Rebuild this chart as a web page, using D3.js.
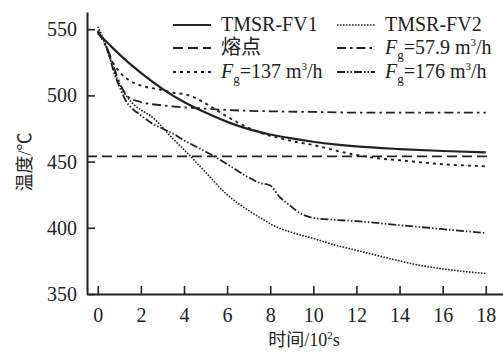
<!DOCTYPE html>
<html>
<head>
<meta charset="utf-8">
<script src="https://cdn.jsdelivr.net/npm/d3@7"></script>
<style>
  body { margin: 0; background: #fff; }
  svg text { font-family: "Times New Roman", "Liberation Serif", "Noto Sans CJK SC", serif; fill: #222; }
</style>
</head>
<body>
<div id="chart"></div>
<script>
// time in 10^2 s, temperature in degC
const xTicks = [0, 2, 4, 6, 8, 10, 12, 14, 16, 18];
const yTicks = [350, 400, 450, 500, 550];
const meltPoint = 454;

const fv1 = [[0,547],[0.5,539],[1,531],[2,517],[3,505],[4,495],[5,487],[6,480],[7,474.5],[8,470.5],[9,467.5],[10,465],[11,463],[12,461.5],[14,459.5],[16,458],[18,457]];
const fv2 = [[0,552],[0.3,541],[0.6,526],[1,509],[1.4,498],[1.75,492],[2,489],[2.5,484],[3,476],[3.5,467],[4,459],[5,442],[6,425],[7,413],[7.7,406],[8,403],[9,396.5],[10,392],[11,387],[12,383],[13,379],[14,375],[15,371.5],[16,369],[17,367],[18,365.5]];
const fg57 = [[0,548],[0.5,533],[1,510],[1.4,499],[2,495],[3,492.5],[4,491],[5,490],[6,489],[8,488],[10,487.5],[12,487],[14,487],[16,487],[18,487]];
const fg137 = [[0,549],[0.3,540],[0.6,528],[1,518],[1.5,511],[2,507.5],[3,504],[3.5,502],[4,501],[4.4,499],[5,494],[5.5,489],[6,484],[6.5,479.5],[7,475.5],[7.7,471],[8.5,467.5],[9,465.5],[10,462.5],[11,458.5],[12,455],[13,452.5],[14,451],[16,448],[18,446.5]];
const fg176 = [[0,548],[0.4,537],[0.8,515],[1.1,503],[1.3,496],[1.6,490],[2,485],[2.5,479],[3,475],[3.5,471],[4,466],[4.6,461],[5.4,454],[6.3,445],[7,438],[7.5,434],[8,432],[8.4,424],[8.9,417],[9.5,410],[10,407.5],[11,406],[12,405],[14,402],[16,399],[18,396]];

const width = 503, height = 352;
const svg = d3.select('#chart').append('svg')
  .attr('width', width)
  .attr('height', height);

const x = d3.scaleLinear().domain([-0.5, 18.8]).range([87, 503]);
const y = d3.scaleLinear().domain([350, 563]).range([294, 12]);

const series = [
  { name: 'fv1', data: fv1, dash: null, w: 2.2 },
  { name: 'fv2', data: fv2, dash: '1.6,1.4', w: 1.6 },
  { name: 'fg57', data: fg57, dash: '9,4,2.5,4', w: 1.8 },
  { name: 'fg137', data: fg137, dash: '3,4', w: 1.9 },
  { name: 'fg176', data: fg176, dash: '8,2,1.5,2,1.5,2', w: 1.8 }
];

const line = d3.line()
  .x(d => x(d[0]))
  .y(d => y(d[1]))
  .curve(d3.curveMonotoneX);

// melting point
svg.append('line')
  .attr('x1', x(-0.5)).attr('x2', x(18.1))
  .attr('y1', y(meltPoint)).attr('y2', y(meltPoint))
  .attr('stroke', '#222')
  .attr('stroke-width', 1.8)
  .attr('stroke-dasharray', '10,5');

series.forEach(s => {
  svg.append('path')
    .datum(s.data)
    .attr('fill', 'none')
    .attr('stroke', '#222')
    .attr('stroke-width', s.w)
    .attr('stroke-dasharray', s.dash)
    .attr('d', line);
});

// axes
const xAxis = svg.append('g')
  .attr('transform', `translate(0,${y(350)})`)
  .call(d3.axisBottom(x).tickValues(xTicks).tickSizeInner(-8).tickSizeOuter(0).tickPadding(14));
const yAxis = svg.append('g')
  .attr('transform', `translate(${x(-0.5)},0)`)
  .call(d3.axisLeft(y).tickValues(yTicks).tickSizeInner(-8).tickSizeOuter(0).tickPadding(10));

[xAxis, yAxis].forEach(a => {
  a.attr('font-family', null);
  a.select('.domain').attr('stroke', '#222').attr('stroke-width', 2);
  a.selectAll('.tick line').attr('stroke', '#222').attr('stroke-width', 1.6);
  a.selectAll('.tick text')
    .style('font-size', '20px')
    .attr('fill', '#222');
});

// axis titles
const xt = svg.append('text')
  .attr('x', 304).attr('y', 346)
  .attr('text-anchor', 'middle')
  .style('font-size', '18px')
  .text('时间/10');
xt.append('tspan').attr('dy', -7).style('font-size', '11px').text('2');
xt.append('tspan').attr('dy', 7).text('s');

svg.append('text')
  .attr('transform', 'translate(31,162) rotate(-90)')
  .attr('text-anchor', 'middle')
  .style('font-size', '18px')
  .text('温度/℃');

// legend
const legend = [
  { col: 0, row: 0, dash: null, w: 2.2, label: ['TMSR-FV1'] },
  { col: 1, row: 0, dash: '1.6,1.4', w: 1.6, label: ['TMSR-FV2'] },
  { col: 0, row: 1, dash: '10,5', w: 1.8, label: ['熔点'] },
  { col: 1, row: 1, dash: '9,4,2.5,4', w: 1.8, label: ['F', 'g', '=57.9 m', '3', '/h'] },
  { col: 0, row: 2, dash: '3,4', w: 1.9, label: ['F', 'g', '=137 m', '3', '/h'] },
  { col: 1, row: 2, dash: '8,2,1.5,2,1.5,2', w: 1.8, label: ['F', 'g', '=176 m', '3', '/h'] }
];
const colX = [173, 337];
const rowY = [25, 48, 72];

legend.forEach(l => {
  const lx = colX[l.col], ly = rowY[l.row];
  svg.append('line')
    .attr('x1', lx).attr('x2', lx + 38)
    .attr('y1', ly).attr('y2', ly)
    .attr('stroke', '#222')
    .attr('stroke-width', l.w)
    .attr('stroke-dasharray', l.dash);
  const t = svg.append('text')
    .attr('x', lx + 48).attr('y', ly + 6)
    .style('font-size', '20px');
  if (l.label.length === 1) {
    t.text(l.label[0]);
  } else {
    t.append('tspan').style('font-style', 'italic').text(l.label[0]);
    t.append('tspan').attr('dy', 5).style('font-size', '13px').text(l.label[1]);
    t.append('tspan').attr('dy', -5).text(l.label[2]);
    t.append('tspan').attr('dy', -8).style('font-size', '11px').text(l.label[3]);
    t.append('tspan').attr('dy', 8).text(l.label[4]);
  }
});
</script>
</body>
</html>
